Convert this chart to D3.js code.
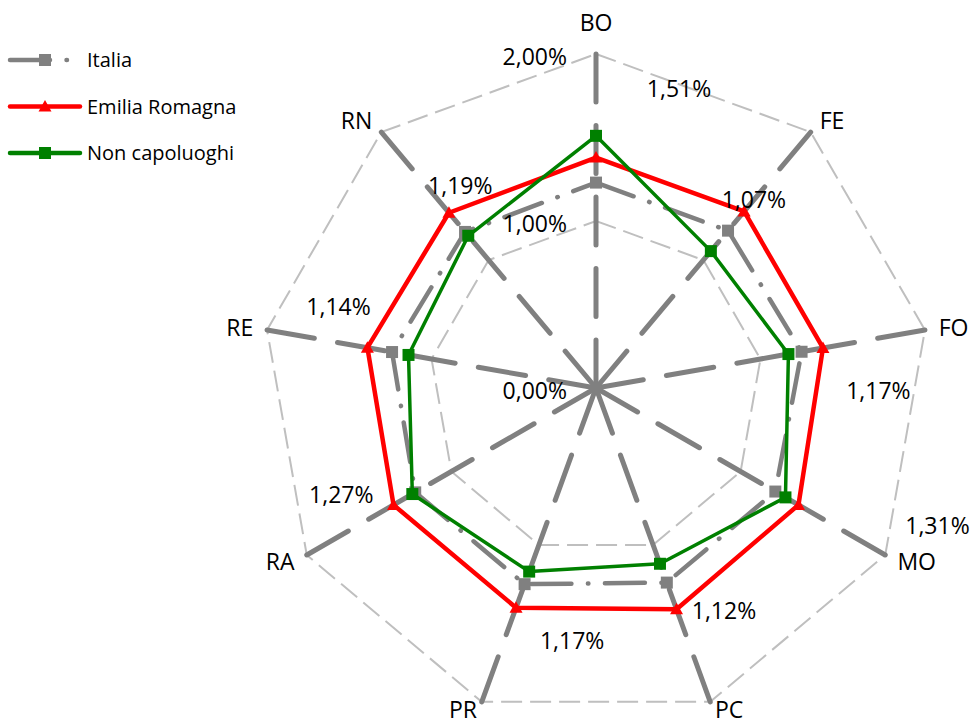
<!DOCTYPE html>
<meta charset="utf-8">
<script src="https://d3js.org/d3.v7.min.js"></script>
<style>
  body { margin: 0; background: #fff; }
  text { font-family: "Open Sans", sans-serif; fill: #000; }
</style>
<div id="radar"></div>
<script>
  // chart values (percent)
  var categories = ["BO", "FE", "FO", "MO", "PC", "PR", "RA", "RE", "RN"];
  var italia = [1.23, 1.23, 1.25, 1.24, 1.24, 1.25, 1.25, 1.24, 1.22];
  var emiliaRomagna = [1.38, 1.38, 1.38, 1.40, 1.41, 1.40, 1.40, 1.39, 1.37];
  var nonCapoluoghi = [1.51, 1.07, 1.17, 1.31, 1.12, 1.17, 1.27, 1.14, 1.19];
  var radialTicks = [0, 1, 2];
  var seriesNames = ["Italia", "Emilia Romagna", "Non capoluoghi"];

  // where the data labels of "Non capoluoghi" sit, relative to their point
  var labelOffsets = [[83, -47], [43, -51], [90, 37], [152, 29], [64, 47],
                      [43, 69], [-71, 1], [-70, -48], [-8, -50]];

  var width = 978, height = 727;
  var cx = 596, cy = 388, R = 334;

  var svg = d3.select("#radar")
    .append("svg")
    .attr("width", width)
    .attr("height", height);

  var r = d3.scaleLinear().domain([0, 2]).range([0, R]);
  var angle = d3.scaleLinear().domain([0, categories.length]).range([0, 2 * Math.PI]);

  function px(i, v) { return cx + r(v) * Math.sin(angle(i)); }
  function py(i, v) { return cy - r(v) * Math.cos(angle(i)); }

  var fmt = function (v) { return v.toFixed(2).replace(".", ",") + "%"; };

  // gridline rings
  svg.selectAll(".ring")
    .data(radialTicks.filter(function (t) { return t > 0; }))
    .enter()
    .append("polygon")
    .attr("points", function (t) {
      return categories.map(function (c, i) { return px(i, t) + "," + py(i, t); }).join(" ");
    })
    .attr("fill", "none")
    .attr("stroke", "#bfbfbf")
    .attr("stroke-width", 2)
    .attr("stroke-dasharray", "21,8");

  // spokes, drawn from the centre outwards
  svg.selectAll(".spoke")
    .data(categories)
    .enter()
    .append("line")
    .attr("x1", cx)
    .attr("y1", cy)
    .attr("x2", function (c, i) { return px(i, 2); })
    .attr("y2", function (c, i) { return py(i, 2); })
    .attr("stroke", "#808080")
    .attr("stroke-width", 5)
    .attr("stroke-linecap", "round")
    .attr("stroke-dasharray", "48,23.5");

  var line = d3.lineRadial()
    .angle(function (d, i) { return angle(i); })
    .radius(function (d) { return r(d); })
    .curve(d3.curveLinearClosed);

  var squarePath = "M-6,-6H6V6H-6Z";
  var trianglePath = "M0,-6.5L6.5,5L-6.5,5Z";

  var series = [
    { values: italia, color: "#808080", width: 4.5, dash: "40,16.5,0.5,16.5", marker: squarePath },
    { values: emiliaRomagna, color: "#ff0000", width: 4.5, dash: null, marker: trianglePath },
    { values: nonCapoluoghi, color: "#008000", width: 3.5, dash: null, marker: squarePath }
  ];

  series.forEach(function (s) {
    svg.append("path")
      .datum(s.values)
      .attr("transform", "translate(" + cx + "," + cy + ")")
      .attr("d", line)
      .attr("fill", "none")
      .attr("stroke", s.color)
      .attr("stroke-width", s.width)
      .attr("stroke-linecap", "round")
      .attr("stroke-linejoin", "round")
      .attr("stroke-dasharray", s.dash);

    svg.selectAll(null)
      .data(s.values)
      .enter()
      .append("path")
      .attr("d", s.marker)
      .attr("transform", function (d, i) { return "translate(" + px(i, d) + "," + py(i, d) + ")"; })
      .attr("fill", s.color);
  });

  // category labels
  svg.selectAll(".cat")
    .data(categories)
    .enter()
    .append("text")
    .attr("x", function (c, i) { return cx + (R + 14) * Math.sin(angle(i)); })
    .attr("y", function (c, i) {
      var extra = Math.abs(Math.sin(angle(i))) < 0.1 ? 17 : 0;
      var y = cy - (R + 14 + extra) * Math.cos(angle(i));
      return Math.min(y, height - 17);
    })
    .attr("dy", "0.35em")
    .attr("text-anchor", function (c, i) {
      var s = Math.sin(angle(i));
      return s > 0.1 ? "start" : (s < -0.1 ? "end" : "middle");
    })
    .style("font-size", "23px")
    .text(function (c) { return c; });

  // radial axis labels
  svg.selectAll(".tick")
    .data(radialTicks)
    .enter()
    .append("text")
    .attr("x", cx - 29)
    .attr("y", function (t) { return cy - r(t) + 3; })
    .attr("dy", "0.35em")
    .attr("text-anchor", "end")
    .style("font-size", "23px")
    .text(function (t) { return fmt(t); });

  // data labels (Non capoluoghi)
  svg.selectAll(".dlabel")
    .data(nonCapoluoghi)
    .enter()
    .append("text")
    .attr("x", function (d, i) { return px(i, d) + labelOffsets[i][0]; })
    .attr("y", function (d, i) { return py(i, d) + labelOffsets[i][1]; })
    .attr("dy", "0.35em")
    .attr("text-anchor", "middle")
    .style("font-size", "23px")
    .text(function (d) { return fmt(d); });

  // legend
  var legend = svg.selectAll(".legend")
    .data(series)
    .enter()
    .append("g")
    .attr("transform", function (s, i) { return "translate(10," + (60 + i * 46.5) + ")"; });

  legend.append("line")
    .attr("x1", 0).attr("x2", 70)
    .attr("stroke", function (s) { return s.color; })
    .attr("stroke-width", 4.5)
    .attr("stroke-linecap", "round")
    .attr("stroke-dasharray", function (s) { return s.dash; });

  legend.append("path")
    .attr("d", function (s) { return s.marker; })
    .attr("transform", "translate(35,0)")
    .attr("fill", function (s) { return s.color; });

  legend.append("text")
    .attr("x", 77)
    .attr("dy", "0.35em")
    .style("font-size", "20px")
    .text(function (s, i) { return seriesNames[i]; });
</script>
